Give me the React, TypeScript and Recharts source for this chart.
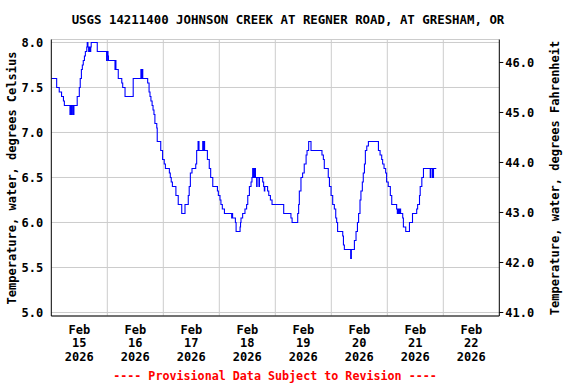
import React from 'react';
import {
  LineChart,
  Line,
  XAxis,
  YAxis,
  CartesianGrid,
  ReferenceLine
} from 'recharts';

// hours after Feb 15 00:00 where the reading changes, and the reading (deg C)
const hours = [
  0, 2.3, 3.4, 4.4, 5.2, 5.6, 8.0, 8.4, 8.7, 8.9, 9.4, 9.7, 11.1, 12.0, 12.4, 12.9,
  13.3, 13.7, 14.2, 14.6, 15.2, 15.4, 15.7, 16.0, 16.3, 16.6, 16.9, 17.1, 19.7, 23.7,
  24.0, 24.3, 24.5, 27.3, 27.5, 27.7, 28.7, 30.2, 30.6, 31.6, 35.1, 38.4, 38.6, 38.8,
  39.2, 41.3, 41.9, 42.3, 42.7, 43.2, 43.6, 44.0, 44.4, 45.2, 45.4, 46.9, 47.7, 48.4,
  48.9, 50.6, 51.0, 51.4, 51.9, 53.4, 54.4, 55.9, 57.3, 58.7, 59.1, 59.6, 60.3, 61.9,
  62.3, 62.9, 63.3, 64.9, 65.2, 65.4, 65.7, 66.9, 67.7, 68.3, 69.2, 71.2, 71.6, 72.3,
  72.7, 73.3, 74.2, 77.3, 77.5, 77.7, 78.9, 79.2, 80.9, 81.1, 81.3, 82.0, 83.0, 83.7,
  84.2, 84.9, 85.6, 86.0, 86.3, 86.5, 86.7, 87.0, 87.3, 87.5, 88.0, 88.2, 89.0, 89.2,
  90.6, 91.0, 91.3, 91.5, 92.7, 93.2, 93.9, 94.6, 99.6, 102.7, 103.2, 105.6, 106.0,
  106.3, 107.0, 107.7, 108.4, 109.2, 109.6, 110.3, 111.3, 116.0, 116.6, 117.0, 118.7,
  119.2, 119.9, 120.6, 121.3, 121.9, 122.3, 122.7, 124.9, 125.2, 125.6, 128.3, 128.6,
  129.9, 130.6, 131.2, 131.7, 132.3, 132.7, 133.3, 133.7, 134.2, 134.6, 135.2, 135.9,
  140.2, 140.9, 141.6, 142.0, 142.6, 143.3, 143.7, 144.4, 145.3, 145.9, 148.0, 148.3,
  148.6, 149.0, 149.3, 149.7, 150.6, 150.9, 151.9, 153.5, 154.8, 156.6, 157.0, 157.8,
  158.1, 158.8, 159.5, 162.4, 162.7, 163.4, 163.8, 165.0
];

const tempC = [
  7.6, 7.5, 7.45, 7.4, 7.35, 7.3, 7.2, 7.3, 7.2, 7.3, 7.2, 7.3, 7.4, 7.5, 7.6, 7.7,
  7.75, 7.8, 7.85, 7.9, 7.95, 8.0, 7.95, 7.9, 7.95, 7.9, 7.95, 8.0, 7.9, 7.8,
  7.9, 7.85, 7.8, 7.7, 7.8, 7.7, 7.6, 7.55, 7.5, 7.4, 7.6, 7.7, 7.6, 7.7,
  7.6, 7.55, 7.45, 7.4, 7.35, 7.3, 7.25, 7.2, 7.1, 7.05, 6.9, 6.8, 6.7, 6.65,
  6.6, 6.55, 6.5, 6.45, 6.4, 6.3, 6.2, 6.1, 6.2, 6.3, 6.4, 6.55, 6.6, 6.65,
  6.8, 6.9, 6.8, 6.9, 6.8, 6.9, 6.8, 6.7, 6.6, 6.5, 6.4, 6.35, 6.3, 6.25,
  6.2, 6.15, 6.1, 6.05, 6.1, 6.05, 6.0, 5.9, 5.95, 6.0, 6.05, 6.1, 6.15, 6.2,
  6.3, 6.4, 6.45, 6.5, 6.6, 6.5, 6.6, 6.5, 6.6, 6.5, 6.4, 6.5, 6.4, 6.5,
  6.45, 6.4, 6.35, 6.4, 6.35, 6.3, 6.25, 6.2, 6.1, 6.05, 6.0, 6.1, 6.2,
  6.35, 6.5, 6.55, 6.65, 6.75, 6.8, 6.9, 6.8, 6.75, 6.7, 6.6, 6.5,
  6.4, 6.3, 6.2, 6.15, 6.05, 6.0, 5.9, 5.85, 5.75, 5.7, 5.6, 5.7,
  5.8, 5.9, 6.0, 6.1, 6.25, 6.35, 6.45, 6.55, 6.65, 6.8, 6.85, 6.9,
  6.8, 6.75, 6.7, 6.65, 6.6, 6.55, 6.45, 6.4, 6.3, 6.2, 6.15, 6.1,
  6.15, 6.1, 6.15, 6.1, 6.05, 5.95, 5.9, 6.0, 6.1, 6.15, 6.2, 6.3,
  6.4, 6.5, 6.6, 6.5, 6.6, 6.5, 6.6, 6.6
];

const dayNumbers = ['15', '16', '17', '18', '19', '20', '21', '22'];
const monthLabel = 'Feb';
const yearLabel = '2026';
const celsiusTicks = [5.0, 5.5, 6.0, 6.5, 7.0, 7.5, 8.0];
const fahrenheitTicks = [41, 42, 43, 44, 45, 46];

const title = 'USGS 14211400 JOHNSON CREEK AT REGNER ROAD, AT GRESHAM, OR';
const leftLabel = 'Temperature, water, degrees Celsius';
const rightLabel = 'Temperature, water, degrees Fahrenheit';
const footer = '---- Provisional Data Subject to Revision ----';

const data = hours.map((h, i) => ({ h, c: tempC[i] }));
const dayStarts = dayNumbers.map((_, i) => i * 24);
const noonTicks = dayNumbers.map((_, i) => i * 24 + 12);

const cMin = 4.961;
const cMax = 8.033;

const FONT = '"DejaVu Sans Mono", monospace';

const DayTick = (props: any) => {
  const { x, y, index } = props;
  return (
    <text x={x} textAnchor="middle" fontFamily={FONT} fontWeight="bold" fontSize={12} fill="#000">
      <tspan x={x} y={y + 9.5}>{monthLabel}</tspan>
      <tspan x={x} y={y + 23}>{dayNumbers[index]}</tspan>
      <tspan x={x} y={y + 36.5}>{yearLabel}</tspan>
    </text>
  );
};

const tickStyle = { fontFamily: FONT, fontWeight: 'bold', fontSize: 12, fill: '#000' };

export default function App() {
  return (
    <div style={{ position: 'absolute', left: 0, top: 0, width: 576, height: 384, background: '#fff' }}>
      <LineChart
        width={576}
        height={384}
        data={data}
        margin={{ top: 39.5, right: 0, bottom: 0, left: 0 }}
      >
        <CartesianGrid vertical={false} stroke="#cccccc" strokeWidth={1} />
        {dayStarts.slice(1).map((d) => (
          <ReferenceLine key={d} x={d} stroke="#cccccc" strokeWidth={1} />
        ))}
        <XAxis
          dataKey="h"
          type="number"
          domain={[0, 192]}
          ticks={noonTicks}
          interval={0}
          tick={<DayTick />}
          tickLine={false}
          axisLine={{ stroke: '#000' }}
          height={68}
          allowDataOverflow
        />
        <XAxis
          xAxisId="top"
          orientation="top"
          type="number"
          domain={[0, 192]}
          height={0}
          tick={false}
          tickLine={false}
          axisLine={{ stroke: '#000' }}
        />
        <YAxis
          type="number"
          domain={[cMin, cMax]}
          ticks={celsiusTicks}
          interval={0}
          width={51.3}
          tickLine={false}
          axisLine={{ stroke: '#000' }}
          tick={tickStyle}
          tickFormatter={(v: number) => v.toFixed(1)}
          allowDataOverflow
        />
        <YAxis
          yAxisId="f"
          orientation="right"
          type="number"
          domain={[cMin * 1.8 + 32, cMax * 1.8 + 32]}
          ticks={fahrenheitTicks}
          interval={0}
          width={76.7}
          tickSize={4}
          tickLine={{ stroke: '#000' }}
          axisLine={{ stroke: '#000' }}
          tick={tickStyle}
          tickFormatter={(v: number) => v.toFixed(1)}
          allowDataOverflow
        />
        <Line
          type="stepAfter"
          dataKey="c"
          stroke="#0000ff"
          strokeWidth={1.1}
          dot={false}
          isAnimationActive={false}
        />
      </LineChart>
      <svg
        width={576}
        height={384}
        style={{ position: 'absolute', left: 0, top: 0, pointerEvents: 'none' }}
      >
        <text x={288} y={24} textAnchor="middle" fontFamily={FONT} fontWeight="bold" fontSize={12.4}>
          {title}
        </text>
        <text
          x={0}
          y={0}
          transform="translate(16,178) rotate(-90)"
          textAnchor="middle"
          fontFamily={FONT}
          fontWeight="bold"
          fontSize={12}
        >
          {leftLabel}
        </text>
        <text
          x={0}
          y={0}
          transform="translate(559,178) rotate(-90)"
          textAnchor="middle"
          fontFamily={FONT}
          fontWeight="bold"
          fontSize={12}
        >
          {rightLabel}
        </text>
        <text x={275} y={379.5} textAnchor="middle" fontFamily={FONT} fontWeight="bold" fontSize={11.7} fill="#ff0000">
          {footer}
        </text>
      </svg>
    </div>
  );
}
